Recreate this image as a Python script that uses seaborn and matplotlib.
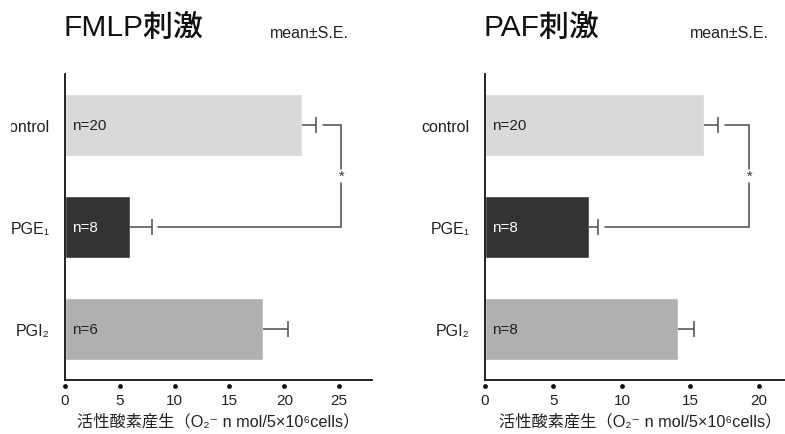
import numpy as np
import pandas as pd
import seaborn as sns
import matplotlib
matplotlib.use("Agg")
import matplotlib.pyplot as plt
from matplotlib import transforms

# ---- data -------------------------------------------------------------
groups = ["control", "PGE₁", "PGI₂"]

fmlp_mean = [21.6, 5.9, 18.1]
fmlp_se = [1.3, 2.0, 2.2]
fmlp_n = [20, 8, 6]

paf_mean = [16.0, 7.6, 14.1]
paf_se = [1.0, 0.65, 1.15]
paf_n = [20, 8, 8]

panel_titles = ["FMLP刺激", "PAF刺激"]
x_ticks = [[0, 5, 10, 15, 20, 25], [0, 5, 10, 15, 20]]
x_limits = [28, 23]
bracket_x = [25.2, 19.3]
x_label = "活性酸素産生（O₂⁻ n mol/5×10⁶cells）"

bar_colors = ["#d9d9d9", "#333333", "#b0b0b0"]
n_colors = ["#222222", "#ffffff", "#222222"]

# ---- style ------------------------------------------------------------
sns.set_theme(style="white")
FAM = ["Liberation Sans", "DejaVu Sans", "Noto Sans CJK JP"]
plt.rcParams["font.family"] = FAM

fig = plt.figure(figsize=(7.85, 4.35), dpi=100)
H = 435.0
W = 785.0
ax_bottom = 1 - 381 / H
ax_height = (381 - 75) / H
ax_left = fig.add_axes([65 / W, ax_bottom, 307 / W, ax_height])
ax_right = fig.add_axes([485 / W, ax_bottom, 315 / W, ax_height])

panels = [
    (ax_left, fmlp_mean, fmlp_se, fmlp_n),
    (ax_right, paf_mean, paf_se, paf_n),
]

line_col = "#4a4a4a"

for i, (ax, means, ses, ns) in enumerate(panels):
    df = pd.DataFrame({"group": groups, "value": means})
    sns.barplot(data=df, x="value", y="group", hue="group", palette=bar_colors,
                orient="h", width=0.6, errorbar=None, legend=False,
                saturation=1, ax=ax)

    ypos = np.arange(len(groups))
    _, caps, _ = ax.errorbar(means, ypos,
                             xerr=[np.zeros(len(means)), ses], fmt="none",
                             ecolor=line_col, elinewidth=1.1, capsize=5.5,
                             capthick=1.1)
    # one-sided bars: keep only the outer cap
    caps[0].set_visible(False)

    # n labels inside the bars
    for y, n, c in zip(ypos, ns, n_colors):
        ax.text(0.6 if i == 0 else 0.5, y, f"n={n}", color=c, fontsize=11,
                va="center", ha="left")

    # significance bracket between control and PGE1
    gap = 0.022 * x_limits[i]
    bx = bracket_x[i]
    x0 = means[0] + ses[0] + gap
    x1 = means[1] + ses[1] + gap
    ax.plot([x0, bx, bx], [0, 0, 0.43], color=line_col, lw=1.1,
            solid_joinstyle="miter")
    ax.plot([bx, bx, x1], [0.57, 1, 1], color=line_col, lw=1.1,
            solid_joinstyle="miter")
    ax.text(bx, 0.5, "*", ha="center", va="center", fontsize=10.5,
            color="#333333")

    ax.set_xlim(0, x_limits[i])
    ax.set_ylim(2.5, -0.5)
    ax.set_xticks(x_ticks[i])
    ax.set_xticklabels([str(t) for t in x_ticks[i]], fontsize=11)
    ax.tick_params(axis="x", length=0, pad=9.5, colors="#222222")
    ax.tick_params(axis="y", length=0, pad=11, labelsize=11.5,
                   colors="#222222")
    ax.set_ylabel("")
    ax.set_xlabel(x_label, fontsize=11.7, color="#222222")

    for side in ["top", "right"]:
        ax.spines[side].set_visible(False)
    for side in ["left", "bottom"]:
        ax.spines[side].set_color("#111111")
        ax.spines[side].set_linewidth(1.3)

    # dot tick markers just below the axis
    dot_tr = ax.get_xaxis_transform() + transforms.ScaledTranslation(
        0, -6 / 100, fig.dpi_scale_trans)
    ax.scatter(x_ticks[i], [0] * len(x_ticks[i]), s=6, color="#111111",
               transform=dot_tr, clip_on=False, zorder=5)

# axis titles: the right one is centred on the visible part of its axis
label_y = -(414 - 381) / 306
ax_left.xaxis.set_label_coords(0.5, label_y)
ax_right.xaxis.set_label_coords(155 / 315, label_y)

# the page edge trims the left panel's first category label
fig.canvas.draw()
edge = transforms.Bbox.from_extents(11, 0, W, H)
for lab in ax_left.get_yticklabels():
    lab.set_clip_box(edge)
    lab.set_clip_on(True)

# headings
fig.text(63 / W, 1 - 29 / H, panel_titles[0], fontsize=21.5, va="center",
         ha="left", color="#111111", fontweight="medium")
fig.text(483 / W, 1 - 29 / H, panel_titles[1], fontsize=21.5, va="center",
         ha="left", color="#111111", fontweight="medium")
fig.text(270 / W, 1 - 33 / H, "mean±S.E.", fontsize=11.5, va="center",
         ha="left", color="#222222")
fig.text(690 / W, 1 - 33 / H, "mean±S.E.", fontsize=11.5, va="center",
         ha="left", color="#222222")

fig.savefig("out.png", dpi=100)
